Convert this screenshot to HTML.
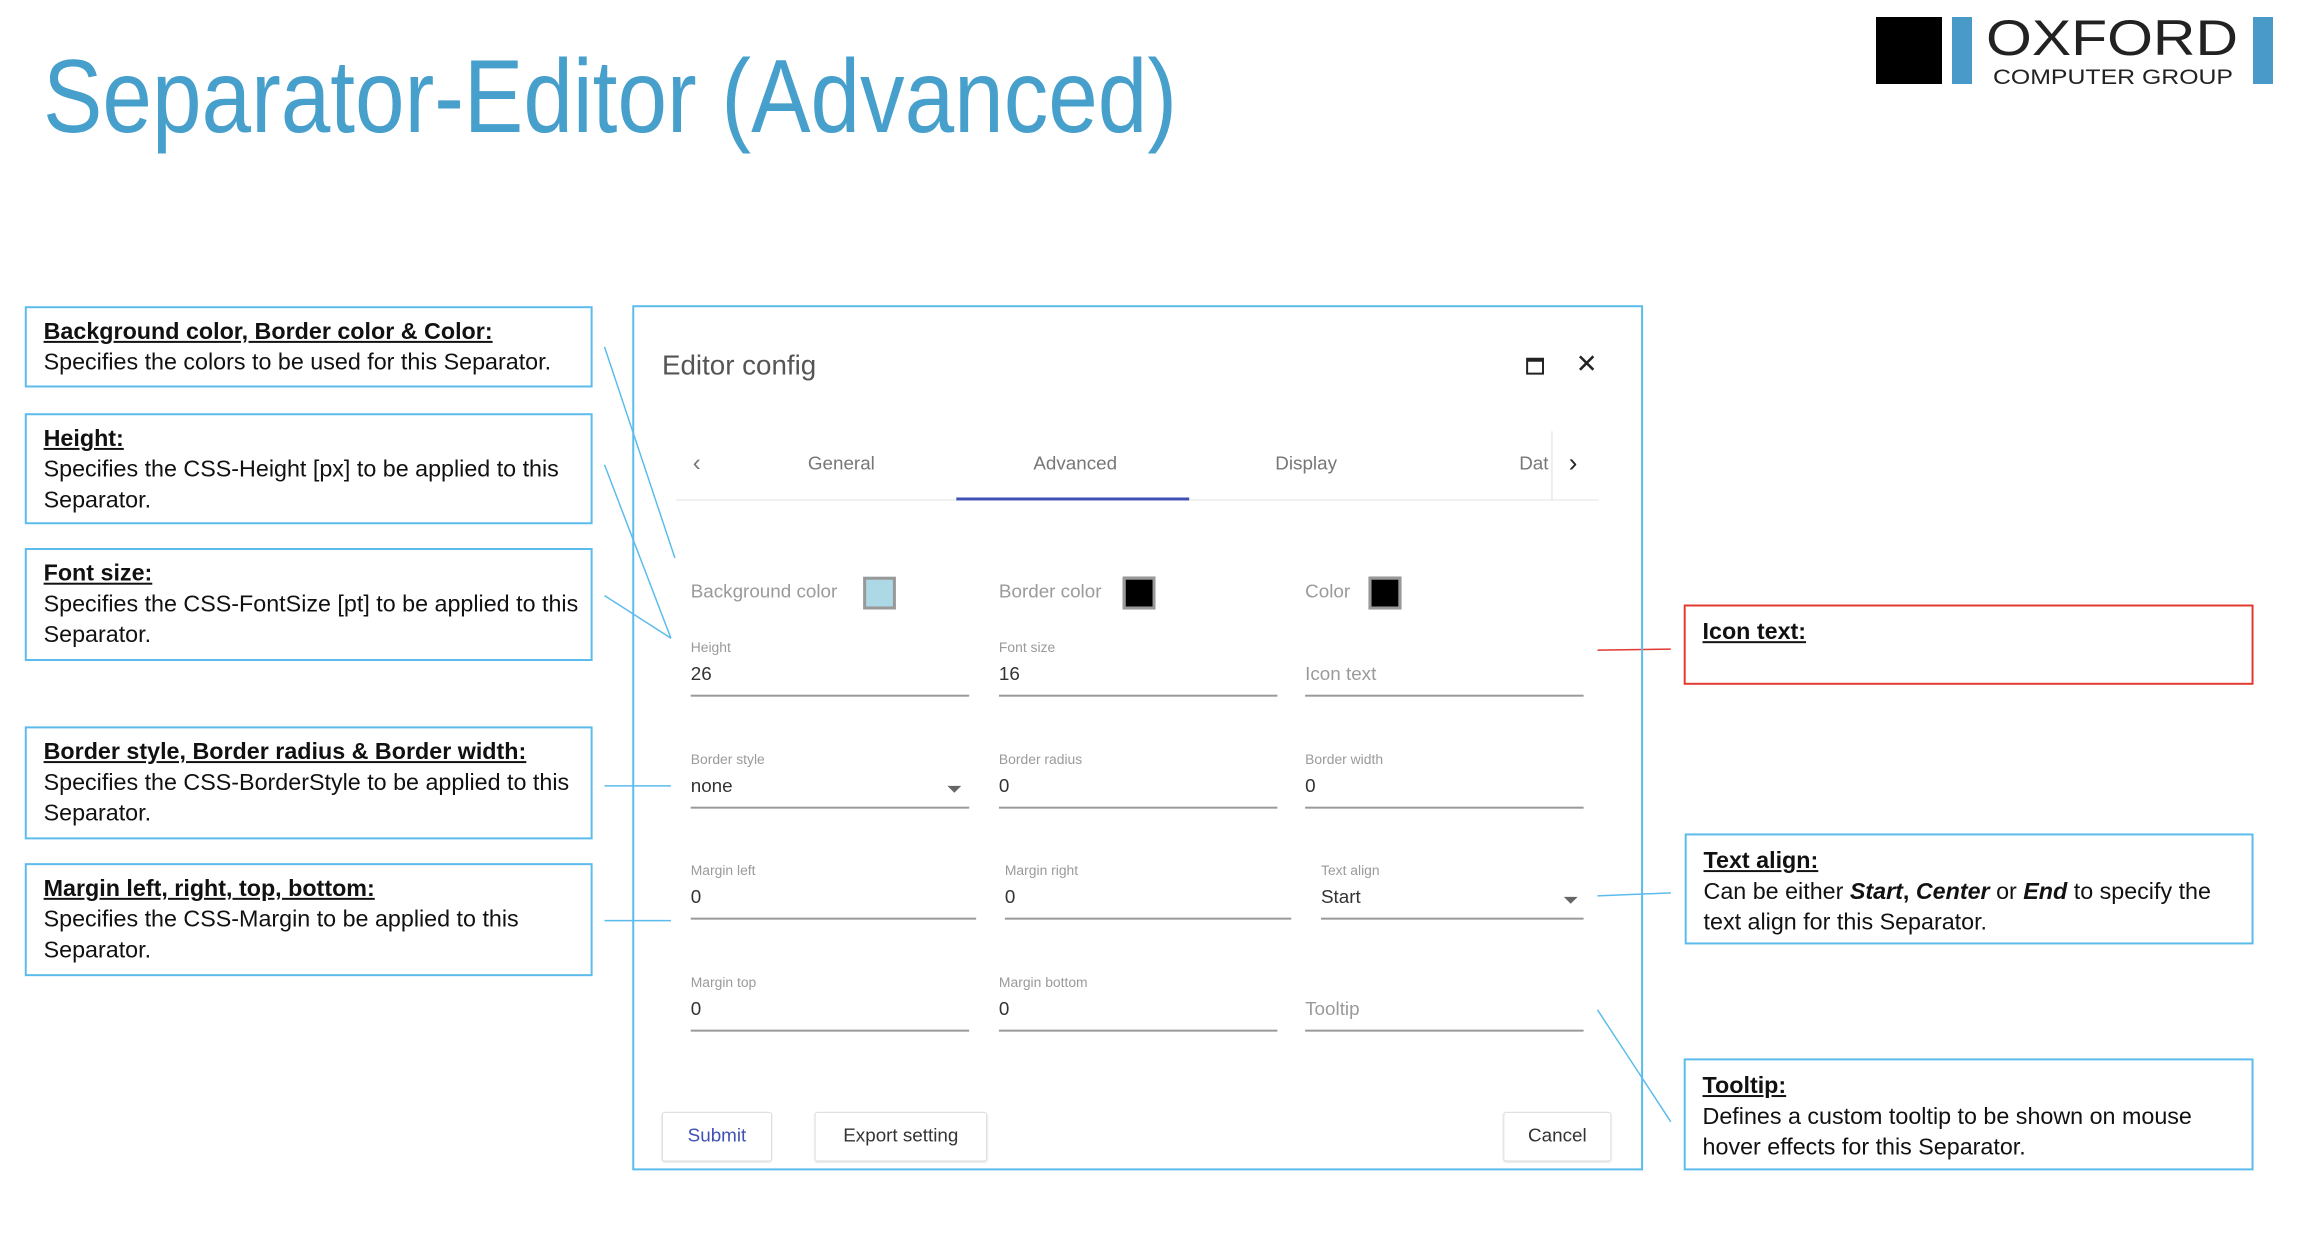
<!DOCTYPE html>
<html><head><meta charset="utf-8"><style>
body{margin:0;width:2304px;height:1242px;background:#fff;position:relative;overflow:hidden;font-family:"Liberation Sans",sans-serif}
.a{position:absolute}
#w{position:absolute;left:0;top:0;width:2304px;height:1242px;transform:scale(0.991);transform-origin:0 0}
#d{position:absolute;left:5px;top:4px;width:2304px;height:1242px}
.box{position:absolute;border:2px solid #5bbcec;box-sizing:border-box;padding:8px 0 0 17px;font-size:23.5px;line-height:31px;color:#111;white-space:nowrap}
.box b{text-decoration:underline}
.lbl{position:absolute;font-size:14px;color:#9a9a9a}
.val{position:absolute;font-size:19px;color:#333}
.ph{position:absolute;font-size:19px;color:#9a9a9a}
.ul{position:absolute;height:1.5px;background:#999}
.tab{position:absolute;top:454px;font-size:19px;color:#777;transform:translateX(-50%)}
.btn{position:absolute;top:1118px;height:50px;border:1px solid #ddd;border-radius:3px;box-sizing:border-box;font-size:19px;text-align:center;line-height:48px;color:#333;box-shadow:0 1px 2px rgba(0,0,0,.12)}
.sw{position:absolute;width:33px;height:33px;box-sizing:border-box;border:3px solid #999;top:578px}
.arrow{position:absolute;width:0;height:0;border-left:7px solid transparent;border-right:7px solid transparent;border-top:7px solid #666}
</style></head><body>
<svg class="a" style="left:0;top:0" width="2304" height="1242">
<text x="43" y="132" font-family="Liberation Sans" font-size="104" fill="#479fcb" textLength="1134" lengthAdjust="spacingAndGlyphs">Separator-Editor (Advanced)</text>
<rect x="1876" y="17" width="66" height="67" fill="#000"/>
<rect x="1952" y="17" width="20" height="67" fill="#4a9ac9"/>
<rect x="2253" y="17" width="20" height="67" fill="#4a9ac9"/>
<text x="1986" y="55" font-family="Liberation Sans" font-size="50" fill="#222" textLength="252" lengthAdjust="spacingAndGlyphs">OXFORD</text>
<text x="1993" y="84" font-family="Liberation Sans" font-size="21" fill="#222" textLength="240" lengthAdjust="spacingAndGlyphs">COMPUTER GROUP</text>
</svg>
<div id="w">
<svg class="a" style="left:0;top:0" width="2304" height="1242">
<g stroke="#5bbcec" stroke-width="1.5" fill="none">
<line x1="610" y1="350" x2="681" y2="563"/>
<line x1="610" y1="469" x2="677" y2="644"/>
<line x1="610" y1="601" x2="677" y2="644"/>
<line x1="610" y1="793" x2="677" y2="793"/>
<line x1="610" y1="929" x2="677" y2="929"/>
<line x1="1612" y1="904" x2="1686" y2="901"/>
<line x1="1612" y1="1019" x2="1686" y2="1132"/>
</g>
<line x1="1612" y1="656" x2="1686" y2="655" stroke="#e03a32" stroke-width="1.5"/>
</svg>

<div class="box" style="left:25px;top:309px;width:573px;height:82px"><b>Background color, Border color &amp; Color:</b><br>Specifies the colors to be used for this Separator.</div>
<div class="box" style="left:25px;top:417px;width:573px;height:112px"><b>Height:</b><br>Specifies the CSS-Height [px] to be applied to this<br>Separator.</div>
<div class="box" style="left:25px;top:553px;width:573px;height:114px"><b>Font size:</b><br>Specifies the CSS-FontSize [pt] to be applied to this<br>Separator.</div>
<div class="box" style="left:25px;top:733px;width:573px;height:114px"><b>Border style, Border radius &amp; Border width:</b><br>Specifies the CSS-BorderStyle to be applied to this<br>Separator.</div>
<div class="box" style="left:25px;top:871px;width:573px;height:114px"><b>Margin left, right, top, bottom:</b><br>Specifies the CSS-Margin to be applied to this<br>Separator.</div>

<div class="box" style="left:1699px;top:610px;width:575px;height:81px;border-color:#e03a32;padding-top:10px"><b>Icon text:</b></div>
<div class="box" style="left:1700px;top:841px;width:574px;height:112px;padding-top:10px"><b>Text align:</b><br>Can be either <b style="text-decoration:none"><i>Start</i>, <i>Center</i></b> or <b style="text-decoration:none"><i>End</i></b> to specify the<br>text align for this Separator.</div>
<div class="box" style="left:1699px;top:1068px;width:575px;height:113px;padding-top:10px"><b>Tooltip:</b><br>Defines a custom tooltip to be shown on mouse<br>hover effects for this Separator.</div>

<div class="a" style="left:638px;top:308px;width:1020px;height:873px;border:2px solid #5bbcec;box-sizing:border-box"></div>
<div id="d">
<div class="a" style="left:663px;top:349px;font-size:28px;color:#555">Editor config</div>
<div class="a" style="left:1535px;top:357px;width:14px;height:11px;border:2px solid #222;border-top-width:4px"></div>
<div class="a" style="left:1585px;top:348px;font-size:26px;color:#222">✕</div>
<div class="a" style="left:694px;top:450px;font-size:24px;color:#777">‹</div>
<div class="tab" style="left:844px">General</div>
<div class="tab" style="left:1080px">Advanced</div>
<div class="tab" style="left:1313px">Display</div>
<div class="a" style="left:1528px;top:454px;font-size:19px;color:#777;width:30px;overflow:hidden">Data</div>
<div class="a" style="left:1560px;top:431px;width:2px;height:69px;background:#eee"></div>
<div class="a" style="left:1578px;top:448px;font-size:26px;color:#222">›</div>
<div class="a" style="left:677px;top:500px;width:931px;height:1px;background:#e2e2e2"></div>
<div class="a" style="left:960px;top:498px;width:235px;height:3px;background:#3f51b5"></div>

<div class="ph" style="left:692px;top:583px">Background color</div>
<div class="sw" style="left:866px;background:#add8e6"></div>
<div class="ph" style="left:1003px;top:583px">Border color</div>
<div class="sw" style="left:1128px;background:#000"></div>
<div class="ph" style="left:1312px;top:583px">Color</div>
<div class="sw" style="left:1376px;background:#000"></div>

<div class="lbl" style="left:692px;top:641px">Height</div><div class="val" style="left:692px;top:666px">26</div><div class="ul" style="left:692px;top:697px;width:281px"></div>
<div class="lbl" style="left:1003px;top:641px">Font size</div><div class="val" style="left:1003px;top:666px">16</div><div class="ul" style="left:1003px;top:697px;width:281px"></div>
<div class="ph" style="left:1312px;top:666px">Icon text</div><div class="ul" style="left:1312px;top:697px;width:281px"></div>

<div class="lbl" style="left:692px;top:754px">Border style</div><div class="val" style="left:692px;top:779px">none</div><div class="arrow" style="left:951px;top:789px"></div><div class="ul" style="left:692px;top:810px;width:281px"></div>
<div class="lbl" style="left:1003px;top:754px">Border radius</div><div class="val" style="left:1003px;top:779px">0</div><div class="ul" style="left:1003px;top:810px;width:281px"></div>
<div class="lbl" style="left:1312px;top:754px">Border width</div><div class="val" style="left:1312px;top:779px">0</div><div class="ul" style="left:1312px;top:810px;width:281px"></div>

<div class="lbl" style="left:692px;top:866px">Margin left</div><div class="val" style="left:692px;top:891px">0</div><div class="ul" style="left:692px;top:922px;width:288px"></div>
<div class="lbl" style="left:1009px;top:866px">Margin right</div><div class="val" style="left:1009px;top:891px">0</div><div class="ul" style="left:1009px;top:922px;width:289px"></div>
<div class="lbl" style="left:1328px;top:866px">Text align</div><div class="val" style="left:1328px;top:891px">Start</div><div class="arrow" style="left:1573px;top:901px"></div><div class="ul" style="left:1328px;top:922px;width:265px"></div>

<div class="lbl" style="left:692px;top:979px">Margin top</div><div class="val" style="left:692px;top:1004px">0</div><div class="ul" style="left:692px;top:1035px;width:281px"></div>
<div class="lbl" style="left:1003px;top:979px">Margin bottom</div><div class="val" style="left:1003px;top:1004px">0</div><div class="ul" style="left:1003px;top:1035px;width:281px"></div>
<div class="ph" style="left:1312px;top:1004px">Tooltip</div><div class="ul" style="left:1312px;top:1035px;width:281px"></div>

<div class="btn" style="left:663px;width:111px;color:#3f51b5">Submit</div>
<div class="btn" style="left:817px;width:174px">Export setting</div>
<div class="btn" style="left:1512px;width:109px">Cancel</div>
</div>
</div>
</body></html>
